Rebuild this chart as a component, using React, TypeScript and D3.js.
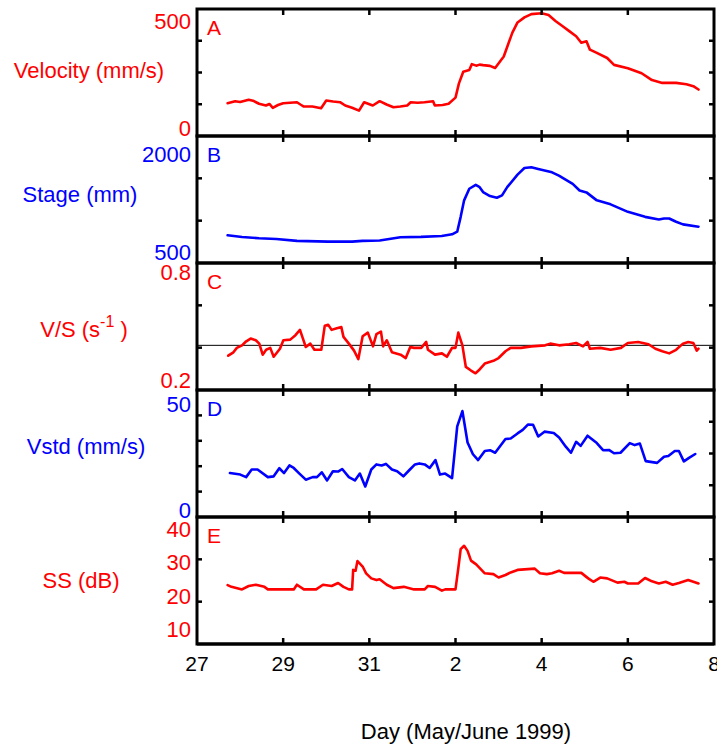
import * as d3 from "d3";

// days since 27 May 1999, 00:00
const velocity: [number, number][] = [
  [0.71, 129], [0.885, 137], [1.0, 134], [1.2, 143], [1.3, 139], [1.44, 127], [1.6, 120], [1.68, 126], [1.76, 111],
  [1.88, 122], [2.0, 129], [2.16, 131], [2.32, 133], [2.4, 124], [2.48, 116], [2.68, 116], [2.88, 109],
  [3.0, 140], [3.16, 136], [3.32, 133], [3.44, 120], [3.6, 111], [3.76, 100], [3.88, 133], [4.08, 120],
  [4.24, 137], [4.4, 124], [4.56, 113], [4.72, 116], [4.88, 120], [4.96, 133], [5.12, 131], [5.28, 133],
  [5.48, 137], [5.52, 120], [5.7, 122], [5.84, 127], [6.0, 151], [6.08, 207], [6.18, 253], [6.32, 260],
  [6.38, 283], [6.48, 277], [6.56, 281], [6.64, 279], [6.8, 276], [6.92, 268], [7.12, 313], [7.32, 407],
  [7.44, 447], [7.6, 467], [7.76, 480], [8.0, 483], [8.16, 476], [8.32, 453], [8.48, 433], [8.64, 413],
  [8.8, 393], [8.92, 367], [9.04, 373], [9.12, 340], [9.28, 327], [9.52, 307], [9.68, 280], [10.0, 267],
  [10.32, 247], [10.56, 220], [10.8, 209], [11.12, 209], [11.36, 204], [11.52, 196], [11.64, 183],
];

const stage: [number, number][] = [
  [0.71, 827], [1.045, 808], [1.44, 792], [1.84, 784], [2.32, 761], [3.04, 753], [3.6, 753], [3.84, 761],
  [4.24, 765], [4.72, 804], [5.2, 808], [5.68, 819], [5.92, 839], [6.04, 870], [6.12, 1045], [6.2, 1240],
  [6.32, 1377], [6.47, 1423], [6.56, 1396], [6.64, 1338], [6.8, 1291], [6.96, 1271], [7.08, 1299],
  [7.2, 1396], [7.44, 1544], [7.6, 1622], [7.76, 1630], [7.92, 1610], [8.24, 1571], [8.4, 1532],
  [8.72, 1435], [8.88, 1357], [9.04, 1334], [9.28, 1240], [9.6, 1193], [10.0, 1104], [10.4, 1045],
  [10.72, 1014], [10.84, 1026], [10.96, 1026], [11.12, 987], [11.28, 956], [11.64, 929],
];

const vs: [number, number][] = [
  [0.725, 0.362], [0.845, 0.378], [0.925, 0.399], [1.045, 0.411], [1.125, 0.427], [1.245, 0.443],
  [1.365, 0.435], [1.445, 0.419], [1.525, 0.367], [1.605, 0.39], [1.7, 0.399], [1.78, 0.357],
  [1.925, 0.395], [2.005, 0.435], [2.165, 0.438], [2.285, 0.459], [2.39, 0.484], [2.445, 0.451],
  [2.525, 0.403], [2.63, 0.419], [2.725, 0.39], [2.885, 0.39], [2.965, 0.503], [3.045, 0.508],
  [3.125, 0.484], [3.245, 0.492], [3.35, 0.497], [3.4, 0.451], [3.525, 0.419], [3.645, 0.386],
  [3.745, 0.346], [3.845, 0.454], [3.965, 0.471], [4.085, 0.406], [4.165, 0.464], [4.27, 0.476],
  [4.32, 0.406], [4.405, 0.435], [4.525, 0.378], [4.725, 0.367], [4.845, 0.351], [4.95, 0.403],
  [5.04, 0.399], [5.205, 0.399], [5.32, 0.427], [5.36, 0.39], [5.525, 0.367], [5.685, 0.373],
  [5.8, 0.357], [5.92, 0.399], [6.0, 0.399], [6.065, 0.471], [6.16, 0.411], [6.24, 0.309],
  [6.36, 0.292], [6.465, 0.279], [6.56, 0.297], [6.68, 0.325], [6.88, 0.338], [7.0, 0.351],
  [7.16, 0.383], [7.28, 0.399], [7.52, 0.399], [7.76, 0.406], [8.08, 0.411], [8.2, 0.419],
  [8.405, 0.411], [8.64, 0.416], [8.8, 0.422], [8.96, 0.406], [9.065, 0.427], [9.12, 0.395],
  [9.36, 0.399], [9.6, 0.39], [9.84, 0.399], [10.0, 0.422], [10.24, 0.427], [10.48, 0.416],
  [10.64, 0.395], [10.8, 0.383], [10.96, 0.373], [11.12, 0.39], [11.28, 0.419], [11.4, 0.427],
  [11.52, 0.422], [11.6, 0.386], [11.64, 0.395],
];
const vsMean = 0.411;

const vstd: [number, number][] = [
  [0.765, 17.3], [1.005, 16.7], [1.14, 15.7], [1.27, 18.7], [1.405, 18.7], [1.645, 15.7], [1.78, 16.0],
  [1.91, 19.2], [2.02, 17.3], [2.145, 20.3], [2.245, 19.3], [2.365, 17.3], [2.525, 14.7], [2.685, 15.7],
  [2.785, 15.7], [2.895, 17.6], [3.02, 14.4], [3.155, 18.0], [3.275, 17.9], [3.37, 18.9], [3.525, 15.7],
  [3.665, 14.4], [3.78, 17.1], [3.905, 12.0], [4.045, 18.7], [4.165, 20.7], [4.285, 20.3], [4.385, 20.9],
  [4.525, 18.7], [4.645, 18.0], [4.79, 16.0], [4.925, 18.4], [5.06, 20.7], [5.16, 21.1], [5.285, 20.7],
  [5.4, 19.3], [5.535, 22.4], [5.64, 16.7], [5.76, 17.1], [5.92, 15.3], [6.04, 35.7], [6.16, 41.7],
  [6.28, 29.3], [6.405, 24.7], [6.525, 22.4], [6.68, 26.0], [6.8, 26.3], [6.92, 25.3], [7.16, 30.7],
  [7.28, 30.9], [7.44, 32.9], [7.56, 34.3], [7.68, 36.4], [7.8, 36.3], [7.92, 31.7], [8.065, 33.6],
  [8.28, 33.1], [8.405, 31.3], [8.56, 27.7], [8.68, 25.3], [8.8, 29.6], [8.905, 28.0], [9.065, 32.0],
  [9.28, 29.1], [9.425, 26.3], [9.56, 26.4], [9.68, 25.1], [9.83, 25.3], [10.045, 29.1], [10.16, 28.3],
  [10.28, 28.9], [10.415, 22.0], [10.68, 21.3], [10.84, 23.7], [10.94, 24.0], [11.09, 26.0],
  [11.185, 26.0], [11.3, 21.9], [11.42, 23.3], [11.565, 24.8],
];

const ss: [number, number][] = [
  [0.71, 23.9], [0.8, 23.5], [1.045, 22.9], [1.2, 23.7], [1.365, 24.0], [1.565, 23.5], [1.645, 22.9],
  [1.8, 22.9], [2.245, 22.9], [2.32, 24.0], [2.48, 22.9], [2.765, 22.9], [2.925, 24.0], [3.125, 23.7],
  [3.275, 24.4], [3.4, 23.5], [3.525, 22.9], [3.6, 22.9], [3.625, 27.5], [3.68, 27.3], [3.725, 29.6],
  [3.845, 28.3], [3.925, 26.7], [4.045, 25.5], [4.165, 25.1], [4.24, 25.3], [4.405, 24.0], [4.56, 23.2],
  [4.8, 23.5], [5.04, 22.9], [5.285, 22.9], [5.36, 23.7], [5.525, 23.5], [5.685, 22.6], [5.76, 22.9],
  [6.0, 22.9], [6.065, 27.9], [6.12, 32.4], [6.2, 33.2], [6.28, 32.0], [6.36, 29.7], [6.48, 28.8],
  [6.68, 26.7], [6.88, 26.5], [7.0, 25.7], [7.16, 26.3], [7.28, 26.9], [7.44, 27.5], [7.84, 27.8],
  [7.96, 26.7], [8.12, 26.5], [8.24, 26.7], [8.405, 27.3], [8.52, 26.8], [8.92, 26.8], [9.08, 25.5],
  [9.2, 24.7], [9.36, 25.7], [9.52, 25.5], [9.76, 24.5], [9.92, 24.7], [10.0, 24.3], [10.24, 24.3],
  [10.4, 25.6], [10.56, 24.8], [10.72, 24.3], [10.88, 24.7], [11.04, 24.0], [11.185, 24.4],
  [11.4, 25.1], [11.52, 24.7], [11.64, 24.3],
];

const xTickDays = [0, 2, 4, 6, 8, 10, 12];
const xTickLabels = ["27", "29", "31", "2", "4", "6", "8"];

const velocityDomain = [0, 500];
const velocityLabels = [0, 500];
const velocityTicks = [125, 250, 375];

const stageDomain = [500, 2000];
const stageLabels = [500, 2000];
const stageTicks = [1000, 1500];

const vsDomain = [0.2, 0.8];
const vsLabels = [0.2, 0.8];
const vsTicks = [0.4, 0.6];

const vstdDomain = [0, 50];
const vstdLabels = [0, 50];
const vstdTicksLeft = [10, 20, 30, 40];
const vstdTicksRight = [12.5, 25, 37.5];

const ssDomain = [10, 40];
const ssLabels = [10, 20, 30, 40];
const ssTicks = [20, 30];

const RED = "#ff0000";
const BLUE = "#0000ff";
const FONT = "'Liberation Sans', Arial, Helvetica, sans-serif";

const L = 197, R = 714, TOP = 9, PH = 127;

const panels = [
  { letter: "A", color: RED, data: velocity, domain: velocityDomain, labels: velocityLabels,
    tl: velocityTicks, tr: velocityTicks, title: "Velocity (mm/s)", tx: 89, ty: 78, padT: 12.5, padB: 7.5 },
  { letter: "B", color: BLUE, data: stage, domain: stageDomain, labels: stageLabels,
    tl: stageTicks, tr: stageTicks, title: "Stage (mm)", tx: 80, ty: 202, padT: 18, padB: 10.5 },
  { letter: "C", color: RED, data: vs, domain: vsDomain, labels: vsLabels,
    tl: vsTicks, tr: vsTicks, title: "V/S", tx: 84, ty: 337, padT: 9.5, padB: 9.5 },
  { letter: "D", color: BLUE, data: vstd, domain: vstdDomain, labels: vstdLabels,
    tl: vstdTicksLeft, tr: vstdTicksRight, title: "Vstd (mm/s)", tx: 86, ty: 454, padT: 14, padB: 7 },
  { letter: "E", color: RED, data: ss, domain: ssDomain, labels: ssLabels,
    tl: ssTicks, tr: ssTicks, title: "SS (dB)", tx: 81, ty: 588, padT: 12, padB: 15 },
];

export default function App() {
  const x = d3.scaleLinear().domain([0, 12]).range([L, R]);
  const innerX = xTickDays.filter((d) => d > 0 && x(d) < R - 2);
  const bottomAll = TOP + PH * panels.length;

  return (
    <svg width={717} height={747} style={{ position: "absolute", left: 0, top: 0, display: "block" }}
      fontFamily={FONT}>
      <rect width={717} height={747} fill="#fff" />
      {panels.map((p, i) => {
        const top = TOP + i * PH;
        const bot = top + PH;
        const y = d3.scaleLinear().domain(p.domain).range([bot, top]);
        const yl = d3.scaleLinear().domain(p.domain).range([bot - p.padB, top + p.padT]);
        const line = d3.line<[number, number]>().x((d) => x(d[0])).y((d) => y(d[1]));
        const fmt = (v: number) => (p.domain[1] < 1 ? v.toFixed(1) : String(v));
        return (
          <g key={p.letter}>
            {p.letter === "C" && (
              <line x1={L} x2={R} y1={y(vsMean)} y2={y(vsMean)} stroke="#000" strokeWidth={1} />
            )}
            <path d={line(p.data) ?? ""} fill="none" stroke={p.color} strokeWidth={2.6}
              strokeLinejoin="round" strokeLinecap="round" />
            {innerX.map((d) => (
              <g key={"x" + d} stroke="#000" strokeWidth={2.5}>
                <line x1={x(d)} x2={x(d)} y1={top} y2={top + 6} />
                <line x1={x(d)} x2={x(d)} y1={bot} y2={bot - 6} />
              </g>
            ))}
            {p.tl.map((v) => (
              <line key={"l" + v} x1={L} x2={L + 5} y1={y(v)} y2={y(v)} stroke="#000" strokeWidth={2.5} />
            ))}
            {p.tr.map((v) => (
              <line key={"r" + v} x1={R} x2={R - 5} y1={y(v)} y2={y(v)} stroke="#000" strokeWidth={2.5} />
            ))}
            <rect x={L} y={top} width={R - L} height={PH} fill="none" stroke="#000" strokeWidth={3} />
            {p.labels.map((v) => (
              <text key={"t" + v} x={191} y={yl(v)} dy="0.36em" textAnchor="end" fontSize={22} fill={p.color}>
                {fmt(v)}
              </text>
            ))}
            <text x={L + 10} y={top + 26} fontSize={21} fill={p.color}>{p.letter}</text>
            {p.letter === "C" ? (
              <text x={p.tx} y={p.ty} textAnchor="middle" fontSize={22} fill={p.color}>
                <tspan>V/S (s</tspan>
                <tspan dy={-10} fontSize={16}>-1</tspan>
                <tspan dy={10}> )</tspan>
              </text>
            ) : (
              <text x={p.tx} y={p.ty} textAnchor="middle" fontSize={22} fill={p.color}>{p.title}</text>
            )}
          </g>
        );
      })}
      {xTickDays.map((d, i) => (
        <text key={"xl" + d} x={x(d)} y={671} textAnchor="middle" fontSize={21} fill="#000">
          {xTickLabels[i]}
        </text>
      ))}
      <text x={466} y={739} textAnchor="middle" fontSize={22} fill="#000">Day (May/June 1999)</text>
      <line x1={L} x2={R} y1={bottomAll} y2={bottomAll} stroke="#000" strokeWidth={3} />
    </svg>
  );
}
